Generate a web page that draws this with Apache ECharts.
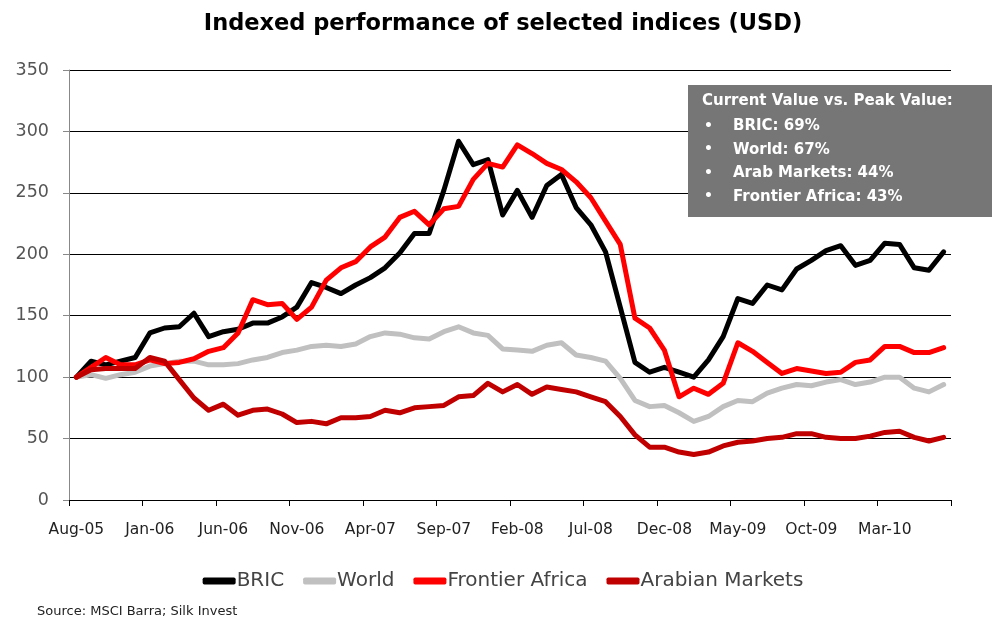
<!DOCTYPE html>
<html>
<head>
<meta charset="utf-8">
<script src="https://cdn.jsdelivr.net/npm/echarts@6/dist/echarts.min.js"></script>
<style>html,body{margin:0;padding:0;background:#fff;}#c{width:1006px;height:619px;}</style>
</head>
<body>
<div id="c"></div>
<script>
var categories = ["Aug-05","Sep-05","Oct-05","Nov-05","Dec-05","Jan-06","Feb-06","Mar-06","Apr-06","May-06","Jun-06","Jul-06","Aug-06","Sep-06","Oct-06","Nov-06","Dec-06","Jan-07","Feb-07","Mar-07","Apr-07","May-07","Jun-07","Jul-07","Aug-07","Sep-07","Oct-07","Nov-07","Dec-07","Jan-08","Feb-08","Mar-08","Apr-08","May-08","Jun-08","Jul-08","Aug-08","Sep-08","Oct-08","Nov-08","Dec-08","Jan-09","Feb-09","Mar-09","Apr-09","May-09","Jun-09","Jul-09","Aug-09","Sep-09","Oct-09","Nov-09","Dec-09","Jan-10","Feb-10","Mar-10","Apr-10","May-10","Jun-10","Jul-10"];
var bric = [100,113,110,113,116,136,140,141,152,133,137,139,144,144,149,157,177,173,168,175,181,189,201,217,217,252,292,273,277,232,252,230,256,265,238,224,202,157,112,104,108,104,100,114,133,164,160,175,171,188,195,203,207,191,195,209,208,189,187,202];
var world = [100,102,99,102,104,109,111,113,113,110,110,111,114,116,120,122,125,126,125,127,133,136,135,132,131,137,141,136,134,123,122,121,126,128,118,116,113,99,81,76,77,71,64,68,76,81,80,87,91,94,93,96,98,94,96,100,100,91,88,94];
var frontierAfrica = [100,108,116,110,110,114,111,112,115,121,124,136,163,159,160,147,157,179,189,194,206,214,230,235,224,237,239,261,274,271,289,282,274,269,259,246,227,208,148,140,122,84,91,86,95,128,121,112,103,107,105,103,104,112,114,125,125,120,120,124];
var arabianMarkets = [100,106,107,107,107,116,113,98,83,73,78,69,73,74,70,63,64,62,67,67,68,73,71,75,76,77,84,85,95,88,94,86,92,90,88,84,80,68,53,43,43,39,37,39,44,47,48,50,51,54,54,51,50,50,52,55,56,51,48,51];
var seriesNames = ["BRIC","World","Frontier Africa","Arabian Markets"];
var seriesColors = ["#000000","#c0c0c0","#ff0000","#c00000"];
var boxTitle = "Current Value vs. Peak Value:";
var boxLines = ["BRIC: 69%","World: 67%","Arab Markets: 44%","Frontier Africa: 43%"];

var chart = echarts.init(document.getElementById('c'), null, {renderer:'canvas'});
var dataSets = [bric, world, frontierAfrica, arabianMarkets];
var series = dataSets.map(function(d,i){
  return {
    name: seriesNames[i], type:'line', data:d, symbol:'none', smooth:false,
    lineStyle:{color:seriesColors[i], width:5, join:'round', cap:'round'},
    itemStyle:{color:seriesColors[i]}
  };
});
var graphics = [{
  type:'rect', left:688, top:85, shape:{width:304, height:132}, style:{fill:'#767676'}, z:100
},{
  type:'text', left:702, top:94, style:{text:boxTitle, fill:'#fff', font:'bold 15px "DejaVu Sans"'}, z:101
}];
boxLines.forEach(function(t,i){
  graphics.push({type:'text', left:704, top:119+i*23.5, style:{text:'\u2022', fill:'#fff', font:'bold 14px "DejaVu Sans"'}, z:101});
  graphics.push({type:'text', left:733, top:119+i*23.5, style:{text:t, fill:'#fff', font:'bold 15px "DejaVu Sans"'}, z:101});
});
chart.setOption({
  animation:false,
  backgroundColor:'#fff',
  title:[{
    text:'Indexed performance of selected indices (USD)', left:'center', top:8,
    textStyle:{fontFamily:'DejaVu Sans', fontWeight:'bold', fontSize:22.5, color:'#000'}
  },{
    text:'Source: MSCI Barra; Silk Invest', left:32, top:600,
    textStyle:{fontFamily:'DejaVu Sans', fontWeight:'normal', fontSize:13, color:'#222'}
  }],
  legend:{
    data:seriesNames, bottom:23, left:'center', itemWidth:33, itemHeight:7, itemGap:19,
    icon:'roundRect',
    textStyle:{fontFamily:'DejaVu Sans', fontSize:20, color:'#444', padding:[0,0,0,-4]}
  },
  grid:{left:69, right:55, top:70, bottom:119, containLabel:false},
  xAxis:{
    type:'category', data:categories, boundaryGap:true,
    axisLine:{lineStyle:{color:'#000', width:1}},
    axisTick:{show:true, interval:4, length:6, lineStyle:{color:'#000'}},
    axisLabel:{interval:4, margin:22, fontFamily:'DejaVu Sans', fontSize:15.5, color:'#222'},
    splitLine:{show:false}
  },
  yAxis:{
    type:'value', min:0, max:350, interval:50,
    axisLine:{show:true, lineStyle:{color:'#888'}},
    axisTick:{show:true, length:6, lineStyle:{color:'#888'}},
    axisLabel:{margin:20, fontFamily:'DejaVu Sans', fontSize:17.5, color:'#555'},
    splitLine:{show:true, lineStyle:{color:'#000', width:1}}
  },
  graphic:graphics,
  series:series
});
</script>
</body>
</html>
